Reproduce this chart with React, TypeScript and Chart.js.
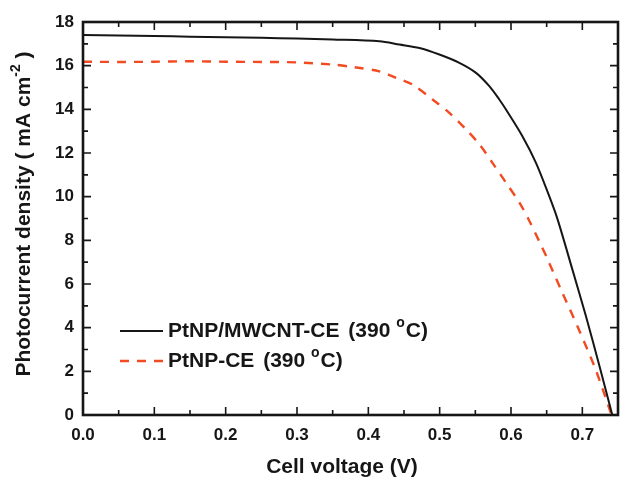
import React, { useEffect, useRef } from 'react';
import { Chart, registerables } from 'chart.js';

Chart.register(...registerables);

// Cell voltage (V) and photocurrent density (mA cm-2), PtNP/MWCNT-CE (390 °C)
const voltageA = [0, 0.05, 0.1, 0.15, 0.2, 0.25, 0.3, 0.35, 0.4155, 0.4435, 0.4716, 0.4996, 0.5276, 0.551, 0.5696, 0.5836, 0.593, 0.616, 0.635, 0.6536, 0.6653, 0.686, 0.705, 0.724, 0.742];
const jPtMwcnt = [17.4, 17.38, 17.36, 17.33, 17.3, 17.28, 17.24, 17.2, 17.12, 16.97, 16.81, 16.51, 16.13, 15.67, 15.06, 14.45, 13.99, 12.77, 11.55, 10.02, 8.96, 6.67, 4.53, 2.24, 0];
// PtNP-CE (390 °C)
const voltageB = [0, 0.05, 0.1, 0.15, 0.2, 0.25, 0.3, 0.35, 0.38, 0.4155, 0.439, 0.462, 0.49, 0.5136, 0.537, 0.5556, 0.574, 0.593, 0.612, 0.6256, 0.6396, 0.649, 0.672, 0.696, 0.719, 0.741];
const jPt = [16.18, 16.17, 16.18, 16.2, 16.18, 16.17, 16.15, 16.05, 15.93, 15.74, 15.44, 15.13, 14.45, 13.84, 13.08, 12.4, 11.55, 10.64, 9.72, 8.9, 7.95, 7.3, 5.6, 3.85, 2.05, 0];

const seriesNames = ['PtNP/MWCNT-CE', 'PtNP-CE'];
const legendSuffix = ['(390 ', 'o', 'C)'];
const xMajorTicks = [0, 0.1, 0.2, 0.3, 0.4, 0.5, 0.6, 0.7];
const xMinorTicks = [0.05, 0.15, 0.25, 0.35, 0.45, 0.55, 0.65, 0.75];
const yMajorTicks = [0, 2, 4, 6, 8, 10, 12, 14, 16, 18];
const yMinorTicks = [1, 3, 5, 7, 9, 11, 13, 15, 17];
const xTitle = 'Cell voltage (V)';
const yTitle = ['Photocurrent density ( mA cm', '-2', ' )'];

const FONT = "'Liberation Sans', Arial, sans-serif";
const RED = '#f24b22';
const INK = '#161616';

const framePlugin = {
  id: 'frameTicks',
  afterDraw(chart: any) {
    const { ctx, chartArea, scales } = chart;
    const { left, right, top, bottom } = chartArea;
    const x = scales.x;
    const y = scales.y;
    ctx.save();
    ctx.strokeStyle = INK;
    ctx.lineWidth = 1.6;
    const major = 8;
    const minor = 5;
    const drawX = (v: number, len: number) => {
      const px = x.getPixelForValue(v);
      ctx.beginPath();
      ctx.moveTo(px, bottom);
      ctx.lineTo(px, bottom - len);
      ctx.moveTo(px, top);
      ctx.lineTo(px, top + len);
      ctx.stroke();
    };
    const drawY = (v: number, len: number) => {
      const py = y.getPixelForValue(v);
      ctx.beginPath();
      ctx.moveTo(left, py);
      ctx.lineTo(left + len, py);
      ctx.moveTo(right, py);
      ctx.lineTo(right - len, py);
      ctx.stroke();
    };
    xMajorTicks.forEach((v) => drawX(v, major));
    xMinorTicks.forEach((v) => drawX(v, minor));
    yMajorTicks.forEach((v) => drawY(v, major));
    yMinorTicks.forEach((v) => drawY(v, minor));
    ctx.lineWidth = 2.6;
    ctx.strokeRect(left, top, right - left, bottom - top);

    // x-axis title
    ctx.fillStyle = INK;
    ctx.textBaseline = 'middle';
    ctx.textAlign = 'center';
    ctx.font = `bold 21px ${FONT}`;
    ctx.fillText(xTitle, 342, 467);

    // y-axis title with superscript
    ctx.textAlign = 'left';
    ctx.font = `bold 21px ${FONT}`;
    const wMain = ctx.measureText(yTitle[0]).width;
    const wTail = ctx.measureText(yTitle[2]).width;
    ctx.font = `bold 14px ${FONT}`;
    const wSup = ctx.measureText(yTitle[1]).width;
    const total = wMain + wSup + wTail;
    ctx.translate(24, 214);
    ctx.rotate(-Math.PI / 2);
    let cx = -total / 2;
    ctx.font = `bold 21px ${FONT}`;
    ctx.fillText(yTitle[0], cx, 0);
    cx += wMain;
    ctx.font = `bold 14px ${FONT}`;
    ctx.fillText(yTitle[1], cx, -8);
    cx += wSup;
    ctx.font = `bold 21px ${FONT}`;
    ctx.fillText(yTitle[2], cx, 0);
    ctx.restore();

    // legend
    ctx.save();
    const rows = [
      { name: seriesNames[0], color: INK, dash: [] as number[], width: 2, y: 331 },
      { name: seriesNames[1], color: RED, dash: [9, 8], width: 2.4, y: 361 },
    ];
    rows.forEach((r) => {
      ctx.strokeStyle = r.color;
      ctx.lineWidth = r.width;
      ctx.setLineDash(r.dash);
      ctx.beginPath();
      ctx.moveTo(120, r.y);
      ctx.lineTo(163, r.y);
      ctx.stroke();
      ctx.setLineDash([]);
      ctx.fillStyle = INK;
      ctx.textBaseline = 'middle';
      ctx.textAlign = 'left';
      let tx = 168;
      ctx.font = `bold 21px ${FONT}`;
      ctx.fillText(r.name, tx, r.y);
      tx += ctx.measureText(r.name + ' ').width + 3;
      ctx.fillText(legendSuffix[0], tx, r.y);
      tx += ctx.measureText(legendSuffix[0]).width;
      ctx.font = `bold 14px ${FONT}`;
      ctx.fillText(legendSuffix[1], tx, r.y - 8);
      tx += ctx.measureText(legendSuffix[1]).width + 1;
      ctx.font = `bold 21px ${FONT}`;
      ctx.fillText(legendSuffix[2], tx, r.y);
    });
    ctx.restore();
  },
};

export default function App() {
  const canvasRef = useRef<HTMLCanvasElement | null>(null);

  useEffect(() => {
    document.body.style.margin = '0';
    const canvas = canvasRef.current;
    if (!canvas) return;
    const chart = new Chart(canvas, {
      type: 'line',
      data: {
        datasets: [
          {
            label: seriesNames[0],
            data: voltageA.map((v, i) => ({ x: v, y: jPtMwcnt[i] })),
            borderColor: INK,
            borderWidth: 2,
            pointRadius: 0,
            tension: 0.3,
            fill: false,
          },
          {
            label: seriesNames[1],
            data: voltageB.map((v, i) => ({ x: v, y: jPt[i] })),
            borderColor: RED,
            borderWidth: 2.4,
            borderDash: [9, 8],
            pointRadius: 0,
            tension: 0.3,
            fill: false,
          },
        ],
      },
      options: {
        responsive: false,
        animation: false,
        devicePixelRatio: 1,
        layout: { padding: { top: 22, right: 2, left: 0, bottom: 0 } },
        plugins: {
          legend: { display: false },
          tooltip: { enabled: false },
        },
        scales: {
          x: {
            type: 'linear',
            min: 0,
            max: 0.75,
            grid: { display: false, drawTicks: false },
            border: { display: false },
            ticks: {
              stepSize: 0.1,
              includeBounds: false,
              padding: 10,
              color: INK,
              font: { family: FONT, size: 17, weight: 'bold' },
              callback: (v: any) => Number(v).toFixed(1),
            },
            title: { display: false },
            afterFit: (s: any) => {
              s.height = 65;
            },
          },
          y: {
            type: 'linear',
            min: 0,
            max: 18,
            grid: { display: false, drawTicks: false },
            border: { display: false },
            ticks: {
              stepSize: 2,
              padding: 9,
              color: INK,
              font: { family: FONT, size: 17, weight: 'bold' },
            },
            afterFit: (s: any) => {
              s.width = 83;
            },
          },
        },
      },
      plugins: [framePlugin],
    } as any);
    return () => chart.destroy();
  }, []);

  return (
    <div style={{ width: 620, height: 480 }}>
      <canvas ref={canvasRef} width={620} height={480} />
    </div>
  );
}
